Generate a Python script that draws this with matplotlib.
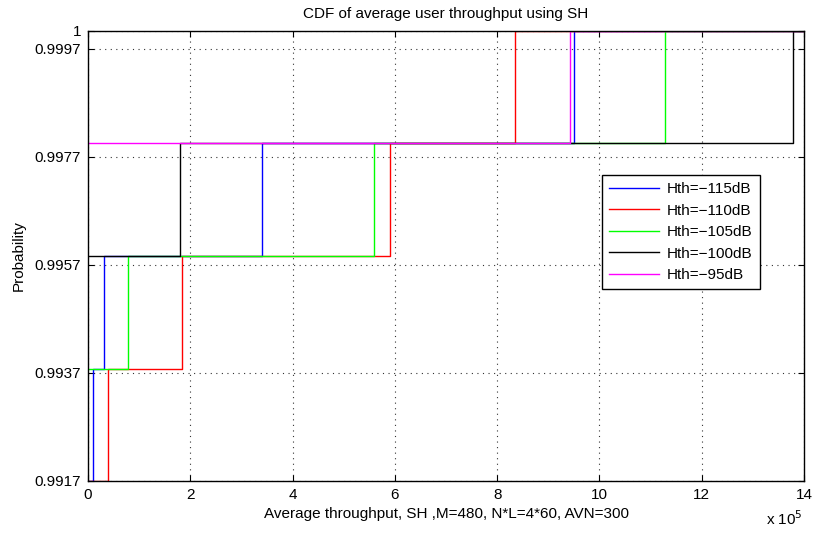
import numpy as np
import matplotlib.pyplot as plt

plt.rcParams['font.family'] = ['Liberation Sans', 'DejaVu Sans']

# Step CDF data (throughput in bit/s, CDF level after each jump)
thr_115 = [0.0, 0.09e5, 0.31e5, 3.40e5, 9.50e5]
prob_115 = [0.99167, 0.99375, 0.99583, 0.99792, 1.0]

thr_110 = [0.0, 0.40e5, 1.84e5, 5.91e5, 8.34e5]
prob_110 = [0.99167, 0.99375, 0.99583, 0.99792, 1.0]

thr_105 = [0.0, 0.79e5, 5.60e5, 11.29e5]
prob_105 = [0.99375, 0.99583, 0.99792, 1.0]

thr_100 = [0.0, 1.80e5, 13.78e5]
prob_100 = [0.99583, 0.99792, 1.0]

thr_95 = [0.0, 9.43e5]
prob_95 = [0.99792, 1.0]

labels = ['Hth=\u2212115dB', 'Hth=\u2212110dB', 'Hth=\u2212105dB', 'Hth=\u2212100dB', 'Hth=\u221295dB']
colors = ['#0000ff', '#ff0000', '#00ff00', '#000000', '#ff00ff']

yticks = [0.991667, 0.993667, 0.995667, 0.997667, 0.999667, 1.0]
ytick_labels = ['0.9917', '0.9937', '0.9957', '0.9977', '0.9997', '1']
xticks = [0, 2, 4, 6, 8, 10, 12, 14]

scale = 1e5
x_max = 14

fig = plt.figure(figsize=(8.15, 5.37), dpi=100)
ax = fig.add_axes([0.108, 0.1043, 0.8785, 0.838])

series = [(thr_115, prob_115), (thr_110, prob_110), (thr_105, prob_105),
          (thr_100, prob_100), (thr_95, prob_95)]

for (thr, prob), lab, col in zip(series, labels, colors):
    x = np.array(thr) / scale
    x = np.append(x, x_max + 1)
    y = np.append(prob, prob[-1])
    ax.step(x, y, where='post', color=col, lw=1.0, label=lab)

ax.set_xlim(0, x_max)
ax.set_ylim(yticks[0], 1.0)
ax.set_xticks(xticks)
ax.set_xticklabels([str(t) for t in xticks])
ax.set_yticks(yticks)
ax.set_yticklabels(ytick_labels)

ax.grid(True, linestyle=(0, (1, 4)), color='#333333', lw=0.8)
ax.tick_params(direction='in', length=4, width=0.8, top=True, right=True,
               labelsize=11, colors='black', pad=5)
for s in ax.spines.values():
    s.set_linewidth(1.0)
    s.set_color('black')

ax.set_title('CDF of average user throughput using SH', fontsize=11, pad=9)
ax.set_xlabel('Average throughput, SH ,M=480, N*L=4*60, AVN=300', fontsize=11, labelpad=4)
ax.set_ylabel('Probability', fontsize=11, labelpad=6)
ax.text(0.998, -0.063, r'x 10$^5$', transform=ax.transAxes, ha='right', va='top', fontsize=11)

leg = ax.legend(loc='upper left', bbox_to_anchor=(0.718, 0.68), fontsize=11,
                fancybox=False, framealpha=1, edgecolor='black', borderpad=0.45,
                handlelength=3.3, labelspacing=0.5, handletextpad=0.5, borderaxespad=0)
leg.get_frame().set_linewidth(1.0)

fig.savefig('out.png', dpi=100)
